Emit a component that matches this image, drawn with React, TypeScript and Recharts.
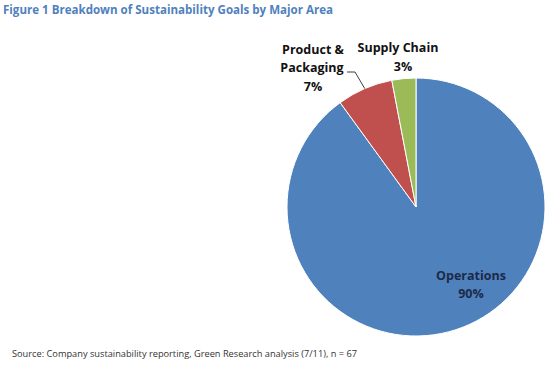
import React from "react";
import { PieChart, Pie, Cell } from "recharts";

const categories = ["Operations", "Product & Packaging", "Supply Chain"];
const shares = [90, 7, 3];
const colors = ["#4F81BD", "#C0504D", "#9BBB59"];

const data = categories.map((name, i) => ({ name, value: shares[i] }));

const RAD = Math.PI / 180;
const FONT = "'Open Sans', 'Liberation Sans', sans-serif";

const renderLabel = (props: any) => {
  const { cx, cy, index, outerRadius, value } = props;
  const common = {
    fontFamily: FONT,
    fontWeight: 700,
    fontSize: 12.5,
    textAnchor: "middle" as const,
  };
  if (index === 0) {
    return (
      <g key="l0">
        <text x={cx + 55} y={cy + 73} fill="#1c2a48" {...common}>
          {categories[0]}
        </text>
        <text x={cx + 55} y={cy + 91} fill="#1c2a48" {...common}>
          {value}%
        </text>
      </g>
    );
  }
  if (index === 1) {
    const mid = 90 + (shares[2] + shares[1] / 2) * 3.6;
    const ex = cx + outerRadius * Math.cos(mid * RAD);
    const ey = cy - outerRadius * Math.sin(mid * RAD);
    return (
      <g key="l1">
        <path
          d={`M${ex},${ey} L${cx - 61},${cy - 135} L${cx - 69},${cy - 135}`}
          fill="none"
          stroke="#404040"
          strokeWidth={1}
        />
        <text x={cx - 103} y={cy - 153} fill="#111" {...common}>
          Product &amp;
        </text>
        <text x={cx - 104} y={cy - 135} fill="#111" {...common}>
          Packaging
        </text>
        <text x={cx - 103} y={cy - 116} fill="#111" {...common}>
          {value}%
        </text>
      </g>
    );
  }
  return (
    <g key="l2">
      <text x={cx - 18} y={cy - 155} fill="#111" {...common}>
        Supply Chain
      </text>
      <text x={cx - 13} y={cy - 136} fill="#111" {...common}>
        {value}%
      </text>
    </g>
  );
};

export default function App() {
  return (
    <div
      style={{
        position: "absolute",
        left: 0,
        top: 0,
        width: 550,
        height: 377,
        background: "#fff",
      }}
    >
      <PieChart width={550} height={377}>
        <Pie
          data={data}
          dataKey="value"
          nameKey="name"
          cx={411}
          cy={202}
          outerRadius={129}
          startAngle={90}
          endAngle={-270}
          stroke="#ffffff"
          strokeWidth={1}
          isAnimationActive={false}
          label={renderLabel}
          labelLine={false}
        >
          {data.map((d, i) => (
            <Cell key={d.name} fill={colors[i]} />
          ))}
        </Pie>
      </PieChart>
      <svg
        width={550}
        height={377}
        style={{ position: "absolute", left: 0, top: 0, pointerEvents: "none" }}
      >
        <text
          x={3}
          y={14}
          fontFamily={FONT}
          fontWeight={700}
          fontSize={12.5}
          fill="#4F81BD"
          textLength={330}
          lengthAdjust="spacingAndGlyphs"
        >
          Figure 1 Breakdown of Sustainability Goals by Major Area
        </text>
        <text
          x={12}
          y={357}
          fontFamily={FONT}
          fontSize={9.5}
          fill="#333"
          textLength={345}
          lengthAdjust="spacingAndGlyphs"
        >
          Source: Company sustainability reporting, Green Research analysis (7/11), n = 67
        </text>
      </svg>
    </div>
  );
}
